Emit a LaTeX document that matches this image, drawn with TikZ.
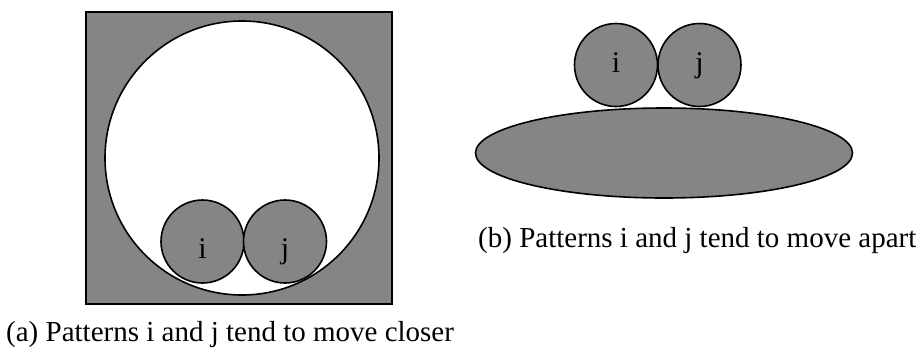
\documentclass[tikz,border=0pt]{standalone}
\usepackage{fontspec}
\setmainfont{Liberation Serif}
\usetikzlibrary{shapes.geometric}
\definecolor{dither}{gray}{0.52}
\begin{document}
\begin{tikzpicture}[x=1pt,y=-1pt,
  shaded/.style={draw=black,line width=1.6pt,fill=dither},
  hole/.style={draw=black,line width=1.6pt,fill=white},
  ball/.style={shaded,circle,inner sep=0pt,minimum size=83pt},
  lbl/.style={font=\fontsize{30}{34}\selectfont,inner sep=0pt,anchor=base},
  captext/.style={font=\fontsize{29}{33}\selectfont,inner sep=0pt,anchor=base west}]
\useasboundingbox (0,0) rectangle (919,349);
% (a)
\node[shaded,rectangle,inner sep=0pt,minimum width=306pt,minimum height=292pt] (box) at (239,158) {};
\node[hole,circle,inner sep=0pt,minimum size=274pt] (big) at (242,158) {};
\node[ball] (ai) at (202.5,241.5) {};
\node[ball] (aj) at (285,241.5) {};
\node[lbl] (ail) at (202.5,258) {i};
\node[lbl] (ajl) at (285,258) {j};
\node[captext] (capa) at (6,341) {(a) Patterns i and j tend to move closer};
% (b)
\node[shaded,ellipse,inner sep=0pt,minimum width=377pt,minimum height=90pt] (plate) at (664,153) {};
\node[ball] (bi) at (616,65) {};
\node[ball] (bj) at (699.5,65) {};
\node[lbl] (bil) at (616,72) {i};
\node[lbl] (bjl) at (699.5,72) {j};
\node[captext] (capb) at (478,247) {(b) Patterns i and j tend to move apart};
\end{tikzpicture}
\end{document}
